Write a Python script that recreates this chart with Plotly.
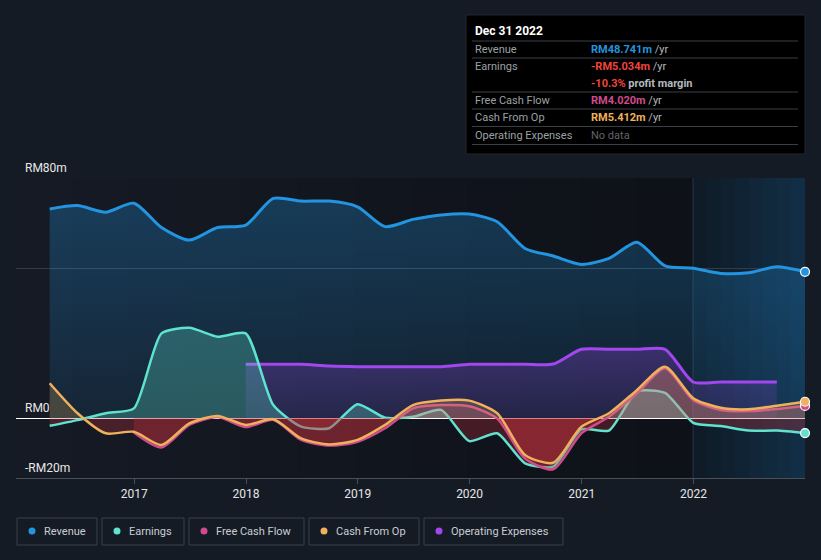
import plotly.graph_objects as go

# ---------------- data (RM millions, trailing twelve months, quarterly) ----------------
quarters = [f"{y}-{md}" for y in range(2016, 2023) for md in ("03-31", "06-30", "09-30", "12-31")]

revenue = [69.7, 70.8, 68.6, 71.6, 63.5, 59.3, 63.5, 64.3, 73.2, 72.3, 72.3, 70.4,
           63.8, 66.2, 67.7, 68.0, 65.4, 56.5, 54.0, 51.2, 53.2, 58.6, 50.7, 49.9,
           48.2, 48.4, 50.4, 48.741]
earnings = [-2.6, -0.7, 1.6, 3.2, 28.2, 30.1, 27.1, 28.2, 4.3, -2.9, -3.4, 4.6,
            0.1, 0.4, 2.7, -7.7, -5.1, -15.1, -16.2, -3.8, -4.2, 8.8, 8.4, -1.6,
            -2.7, -4.2, -4.2, -5.034]
cfo = [11.6, 1.6, -5.1, -4.6, -9.0, -1.8, 0.7, -2.3, -0.4, -6.8, -8.8, -7.3,
       -2.3, 4.3, 5.8, 5.8, 1.6, -12.3, -14.9, -2.9, 1.6, 9.3, 17.1, 6.6,
       3.4, 2.9, 4.1, 5.412]
fcf_quarters = quarters[3:]
fcf = [-4.8, -9.8, -2.3, 0.3, -3.0, -0.6, -7.3, -9.2, -7.9,
       -3.4, 3.2, 4.3, 3.9, -0.2, -13.5, -17.1, -5.1, 0.4, 8.2, 16.6, 6.0,
       2.7, 2.3, 3.0, 4.020]
opex_quarters = quarters[7:27]
opex = [17.9, 17.9, 17.9, 17.3, 17.1, 17.1, 17.1, 17.1, 17.9, 17.9, 17.9, 18.0,
        22.9, 22.9, 22.9, 22.9, 12.0, 12.0, 12.0, 12.0]

y_labels = {80: "RM80m", 0: "RM0", -20: "-RM20m"}
year_ticks = [2017, 2018, 2019, 2020, 2021, 2022]

C_REV, C_EARN, C_FCF, C_CFO, C_OPEX = "#2394df", "#5fe3cf", "#cf4b8c", "#eeb15c", "#a246ee"
BG = "#151b25"

W, H = 821, 560
L, R, T, B = 16, 805, 178, 478


def px(x):
    return (x - L) / (R - L)


def py(y):
    return (B - y) / (B - T)


fig = go.Figure()

signfill = lambda pos: [[0, "rgba(205,50,62,0.28)"], [0.5, "rgba(205,50,62,0.28)"],
                        [0.5, pos], [1, pos]]

fig.add_trace(go.Scatter(
    x=quarters, y=revenue, mode="lines", line=dict(color=C_REV, width=3, shape="spline", smoothing=0.7),
    fill="tozeroy",
    fillgradient=dict(type="vertical", start=0, stop=75,
                      colorscale=[[0, "rgba(35,148,223,0.10)"], [1, "rgba(35,148,223,0.30)"]]),
    hoverinfo="skip"))
fig.add_trace(go.Scatter(
    x=opex_quarters, y=opex, mode="lines", line=dict(color=C_OPEX, width=3, shape="spline", smoothing=0.7),
    fill="tozeroy",
    fillgradient=dict(type="vertical", start=0, stop=23,
                      colorscale=[[0, "rgba(161,70,238,0.12)"], [1, "rgba(161,70,238,0.28)"]]),
    hoverinfo="skip"))
fig.add_trace(go.Scatter(
    x=quarters, y=earnings, mode="lines", line=dict(color=C_EARN, width=2.5, shape="spline", smoothing=0.6),
    fill="tozeroy",
    fillgradient=dict(type="vertical", start=-20, stop=20,
                      colorscale=signfill("rgba(95,227,207,0.28)")),
    hoverinfo="skip"))
fig.add_trace(go.Scatter(
    x=fcf_quarters, y=fcf, mode="lines", line=dict(color=C_FCF, width=2.5, shape="spline", smoothing=0.7),
    fill="tozeroy",
    fillgradient=dict(type="vertical", start=-20, stop=20,
                      colorscale=signfill("rgba(207,75,140,0.22)")),
    hoverinfo="skip"))
fig.add_trace(go.Scatter(
    x=quarters, y=cfo, mode="lines", line=dict(color=C_CFO, width=2.5, shape="spline", smoothing=0.7),
    fill="tozeroy",
    fillgradient=dict(type="vertical", start=-20, stop=20,
                      colorscale=signfill("rgba(238,177,92,0.22)")),
    hoverinfo="skip"))

# end markers
for xs, ys, c in [(quarters, revenue, C_REV), (quarters, earnings, C_EARN),
                  (fcf_quarters, fcf, C_FCF), (quarters, cfo, C_CFO)]:
    fig.add_trace(go.Scatter(x=[xs[-1]], y=[ys[-1]], mode="markers",
                             marker=dict(color=c, size=9, line=dict(color="white", width=1.2)),
                             hoverinfo="skip", cliponaxis=False))

shapes = []
# plot background horizontal gradient (left lighter -> right darker)
n = 12
c0, c1 = (21, 26, 36), (14, 17, 24)
for i in range(n):
    t = i / (n - 1)
    col = tuple(int(round(c0[k] + (c1[k] - c0[k]) * t)) for k in range(3))
    x0 = px(L + (693 - L) * i / n)
    x1 = px(L + (693 - L) * (i + 1) / n) + 0.004
    shapes.append(dict(type="rect", xref="paper", yref="paper", x0=x0, x1=min(x1, px(693)), y0=0, y1=1,
                       fillcolor="rgb(%d,%d,%d)" % col, line=dict(width=0), layer="below"))
# highlighted last-year region (opaque steps, no seams)
m = 8
h0, h1 = (15, 27, 38), (18, 46, 70)
for i in range(m):
    t = i / (m - 1)
    col = tuple(int(round(h0[k] + (h1[k] - h0[k]) * t)) for k in range(3))
    shapes.append(dict(type="rect", xref="paper", yref="paper",
                       x0=px(693 + (R - 693) * i / m), x1=min(px(693 + (R - 693) * (i + 1) / m) + 0.004, 1),
                       y0=0, y1=1, fillcolor="rgb(%d,%d,%d)" % col, line=dict(width=0), layer="below"))
shapes.append(dict(type="line", xref="paper", yref="paper", x0=px(693), x1=px(693), y0=0, y1=1,
                   line=dict(color="rgba(80,110,140,0.35)", width=1), layer="below"))

annotations = []
for v, txt in y_labels.items():
    annotations.append(dict(x=px(23), xref="paper", y=v, yref="y", text=txt, showarrow=False,
                            xanchor="left", yanchor="bottom", yshift=1,
                            font=dict(color="#e8e8e8", size=12, family="Roboto")))

# tooltip box
shapes.append(dict(type="rect", xref="paper", yref="paper", x0=px(466), x1=px(805), y0=py(154), y1=py(15),
                   fillcolor="#000000", line=dict(color="#23272e", width=1), layer="above"))
for yy in [41, 58, 92, 109, 126.5, 144.5]:
    shapes.append(dict(type="line", xref="paper", yref="paper", x0=px(472), x1=px(798), y0=py(yy), y1=py(yy),
                       line=dict(color="#3a3e45", width=1), layer="above"))

tip_font = dict(family="Roboto", size=11, color="#9ca0a6")


def tip(x, y, text, **kw):
    f = dict(tip_font)
    f.update(kw)
    annotations.append(dict(x=px(x), y=py(y), xref="paper", yref="paper", text=text, showarrow=False,
                            xanchor="left", yanchor="middle", font=f))


tip(473, 31, "<b>Dec 31 2022</b>", color="#ffffff", size=12)
rows = [(49, "Revenue", "<b><span style='color:%s'>RM48.741m</span></b> /yr" % C_REV),
        (66, "Earnings", "<b><span style='color:#f0443c'>-RM5.034m</span></b> /yr"),
        (83, "", "<b><span style='color:#f0443c'>-10.3%</span> profit margin</b>"),
        (100, "Free Cash Flow", "<b><span style='color:%s'>RM4.020m</span></b> /yr" % C_FCF),
        (117.5, "Cash From Op", "<b><span style='color:%s'>RM5.412m</span></b> /yr" % C_CFO),
        (135.5, "Operating Expenses", "<span style='color:#60646a'>No data</span>")]
for yy, lab, val in rows:
    if lab:
        tip(473, yy, lab)
    tip(589, yy, val, color="#b4b8be")

# legend
legend_items = [("Revenue", C_REV, 17, 97), ("Earnings", C_EARN, 102, 184),
                ("Free Cash Flow", C_FCF, 189, 304), ("Cash From Op", C_CFO, 309, 419),
                ("Operating Expenses", C_OPEX, 424, 563)]
for name, col, x0, x1 in legend_items:
    shapes.append(dict(type="rect", xref="paper", yref="paper", x0=px(x0), x1=px(x1), y0=py(545), y1=py(518),
                       line=dict(color="#3b4049", width=1), fillcolor="rgba(0,0,0,0)", layer="above"))
    shapes.append(dict(type="circle", xref="paper", yref="paper", xsizemode="pixel", ysizemode="pixel",
                       xanchor=px(x0 + 15), yanchor=py(531), x0=-3.5, x1=3.5, y0=-3.5, y1=3.5,
                       fillcolor=col, line=dict(width=0), layer="above"))
    annotations.append(dict(x=px(x0 + 25), y=py(531), xref="paper", yref="paper", text=name, showarrow=False,
                            xanchor="left", yanchor="middle",
                            font=dict(family="Roboto", size=11, color="#c9cdd3")))

fig.update_layout(
    width=W, height=H,
    margin=dict(l=L, r=W - R, t=T, b=H - B, pad=0),
    paper_bgcolor=BG, plot_bgcolor=BG,
    showlegend=False,
    shapes=shapes, annotations=annotations,
    xaxis=dict(type="date", range=["2015-12-12", "2022-12-31"],
               tickvals=[f"{y}-01-01" for y in year_ticks], ticktext=[str(y) for y in year_ticks],
               ticks="outside", ticklen=5, tickcolor="#4a5058", showgrid=False,
               showline=True, linecolor="#4a5058", linewidth=1, zeroline=False,
               tickfont=dict(family="Liberation Sans Narrow, Roboto", size=12, color="#e6e6e6"),
               fixedrange=True),
    yaxis=dict(range=[-20, 80], tickvals=[50, 80], showticklabels=False, ticks="",
               showgrid=True, gridcolor="#363c46", gridwidth=1,
               zeroline=True, zerolinecolor="#ffffff", zerolinewidth=1, showline=False,
               fixedrange=True),
)

fig.write_html("out.html", config={"displayModeBar": False},
               post_script="document.body.style.margin='0';document.body.style.padding='0';"
                           "document.body.style.background='%s';" % BG)
